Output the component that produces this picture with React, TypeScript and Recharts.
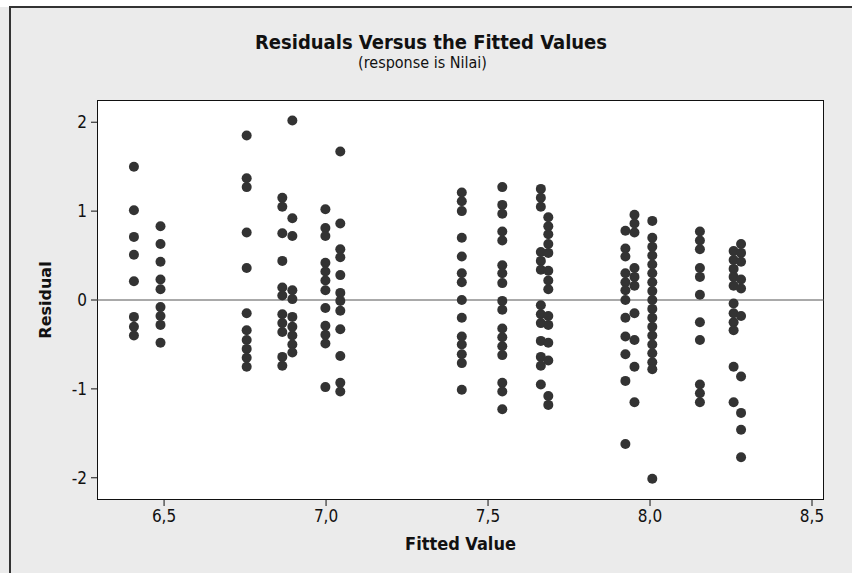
import { ScatterChart, Scatter, XAxis, YAxis, ReferenceLine } from 'recharts';

// fitted value of each vertical group of points
const fittedLevels = [
  6.407, 6.489, 6.755, 6.865, 6.896, 6.998, 7.044, 7.419, 7.544, 7.663, 7.686, 7.924, 7.952, 8.007,
  8.154, 8.258, 8.281,
];

// residuals, one list per fitted level
const residualsByLevel = [
  [1.5, 1.01, 0.71, 0.51, 0.21, -0.19, -0.3, -0.4],
  [0.83, 0.63, 0.43, 0.23, 0.12, -0.08, -0.18, -0.28, -0.48],
  [1.85, 1.37, 1.27, 0.76, 0.36, -0.15, -0.34, -0.45, -0.55, -0.65, -0.75],
  [1.15, 1.05, 0.75, 0.44, 0.14, 0.05, -0.16, -0.26, -0.36, -0.64, -0.74],
  [2.02, 0.92, 0.72, 0.11, 0.01, -0.19, -0.3, -0.4, -0.5, -0.59],
  [1.02, 0.81, 0.72, 0.42, 0.32, 0.22, 0.11, -0.09, -0.29, -0.39, -0.49, -0.98],
  [1.67, 0.86, 0.57, 0.48, 0.28, 0.08, -0.01, -0.12, -0.33, -0.63, -0.93, -1.03],
  [1.21, 1.11, 1.0, 0.7, 0.49, 0.3, 0.2, 0.0, -0.2, -0.41, -0.5, -0.61, -0.71, -1.01],
  [1.27, 1.07, 0.97, 0.77, 0.67, 0.39, 0.3, 0.19, -0.01, -0.11, -0.32, -0.42, -0.52, -0.62, -0.93, -1.03, -1.23],
  [1.25, 1.15, 1.05, 0.54, 0.44, 0.34, -0.06, -0.16, -0.26, -0.46, -0.64, -0.74, -0.95],
  [0.93, 0.83, 0.74, 0.63, 0.53, 0.33, 0.22, 0.12, -0.18, -0.28, -0.48, -0.68, -1.08, -1.18],
  [0.78, 0.58, 0.49, 0.3, 0.2, 0.11, 0.0, -0.2, -0.41, -0.61, -0.91, -1.62],
  [0.96, 0.86, 0.76, 0.36, 0.26, 0.16, -0.15, -0.45, -0.75, -1.15],
  [0.89, 0.7, 0.6, 0.5, 0.4, 0.3, 0.2, 0.1, 0.0, -0.1, -0.2, -0.3, -0.4, -0.5, -0.6, -0.7, -0.78, -2.01],
  [0.77, 0.67, 0.57, 0.36, 0.26, 0.06, -0.25, -0.45, -0.95, -1.05, -1.15],
  [0.55, 0.45, 0.35, 0.26, 0.16, -0.04, -0.15, -0.25, -0.34, -0.75, -1.15],
  [0.63, 0.53, 0.43, 0.23, 0.13, -0.18, -0.86, -1.27, -1.46, -1.77],
];

const xTicks = [6.5, 7.0, 7.5, 8.0, 8.5];
const yTicks = [-2, -1, 0, 1, 2];

const points = fittedLevels.flatMap((fit, i) => residualsByLevel[i].map((r) => ({ x: fit, y: r })));

const font = 'Tahoma, "DejaVu Sans", sans-serif';
const condensed = '"DejaVu Sans Condensed", "Liberation Sans Narrow", "DejaVu Sans", sans-serif';

const Dot = (props: any) => <circle cx={props.cx} cy={props.cy} r={5} fill="#333333" />;

export default function App() {
  return (
    <div style={{ position: 'relative', width: 852, height: 573, background: '#ebebeb', fontFamily: font, overflow: 'hidden' }}>
      <style>{'body{margin:0}'}</style>
      <div style={{ position: 'absolute', left: 0, top: 0, width: 852, height: 7, background: '#fff' }} />
      <div style={{ position: 'absolute', left: 9, top: 6, width: 860, height: 600, borderLeft: '2px solid #333', borderTop: '2px solid #333' }} />
      <div style={{ position: 'absolute', left: 97, top: 100, width: 727, height: 400, background: '#fff', border: '1px solid #111', boxSizing: 'border-box' }} />
      <div style={{ position: 'absolute', left: 0, top: 30, width: 862, textAlign: 'center', fontWeight: 'bold', fontSize: 20, color: '#111', fontFamily: condensed }}>
        Residuals Versus the Fitted Values
      </div>
      <div style={{ position: 'absolute', left: 0, top: 53, width: 845, textAlign: 'center', fontSize: 16, color: '#111', fontFamily: condensed }}>
        (response is Nilai)
      </div>
      <div style={{ position: 'absolute', left: 97, top: 533, width: 727, textAlign: 'center', fontWeight: 'bold', fontSize: 18, color: '#111', fontFamily: condensed }}>
        Fitted Value
      </div>
      <div style={{ position: 'absolute', left: 45, top: 300, transform: 'translate(-50%, -50%) rotate(-90deg)', fontWeight: 'bold', fontSize: 16, color: '#111', whiteSpace: 'nowrap' }}>
        Residual
      </div>
      <div style={{ position: 'absolute', left: 0, top: 0 }}>
        <ScatterChart width={852} height={573} margin={{ top: 100, right: 28, bottom: 33, left: 37 }}>
          <XAxis
            type="number"
            dataKey="x"
            domain={[6.293, 8.537]}
            ticks={xTicks}
            tickFormatter={(v: number) => v.toFixed(1).replace('.', ',')}
            axisLine={false}
            tickSize={6}
            tickMargin={4}
            tickLine={{ stroke: '#111' }}
            tick={{ fill: '#111', fontSize: 17, fontFamily: condensed }}
            height={40}
            interval={0}
          />
          <YAxis
            type="number"
            dataKey="y"
            domain={[-2.25, 2.25]}
            ticks={yTicks}
            axisLine={false}
            tickSize={6}
            tickMargin={4}
            tickLine={{ stroke: '#111' }}
            tick={{ fill: '#111', fontSize: 17, fontFamily: condensed }}
            width={60}
            interval={0}
          />
          <ReferenceLine y={0} stroke="#555" strokeWidth={1} />
          <Scatter data={points} shape={Dot} isAnimationActive={false} />
        </ScatterChart>
      </div>
    </div>
  );
}
